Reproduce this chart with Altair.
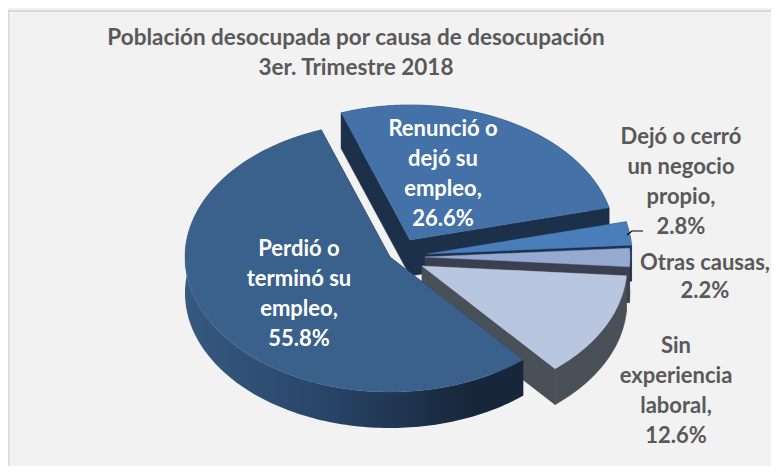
import math
import altair as alt

# --- data -----------------------------------------------------------------
categories = ["Renunció o dejó su empleo", "Dejó o cerró un negocio propio", "Otras causas",
              "Sin experiencia laboral", "Perdió o terminó su empleo"]
shares = [26.6, 2.8, 2.2, 12.6, 55.8]
label_lines = [
    ["Renunció o", "dejó su", "empleo,"],
    ["Dejó o cerró", "un negocio", "propio,"],
    ["Otras causas,"],
    ["Sin", "experiencia", "laboral,"],
    ["Perdió o", "terminó su", "empleo,"],
]
title_lines = ["Población desocupada por causa de desocupación", "3er. Trimestre 2018"]

# --- style / layout --------------------------------------------------------
W, H = 763, 458
BG = "#f2f2f2"
RX, RY, DEPTH = 205, 135, 36
START = 340.4
centres = [(402, 232), (419, 246), (417, 249), (414, 258), (382, 249)]
top_colors = ["#4472a8", "#4a7ebb", "#95a9d1", "#b9c6e0", "#3a618c"]
side_colors = ["#1c3049", "#1b3150", "#3b3f4f", "#4a5058", "#1b2d45"]
label_pos = [(435, 121), (673, 129), (697, 255), (668, 338), (291, 241)]
label_colors = ["white", "#595959", "#595959", "#595959", "white"]
main_gradient = {
    "gradient": "linear", "x1": 0, "x2": 1, "y1": 0, "y2": 0,
    "stops": [
        {"offset": 0, "color": "#36597f"},
        {"offset": 0.4, "color": "#29466a"},
        {"offset": 0.85, "color": "#17263a"},
        {"offset": 1, "color": "#17263a"},
    ],
}

PROJ = alt.Projection(type="identity", scale=1, translate=[0, 0])


def pt(c, deg, drop=0):
    a = math.radians(deg)
    return [c[0] + RX * math.sin(a), c[1] - RY * math.cos(a) + drop]


def shape(points, fill, **kw):
    ring = points + [points[0]]
    data = alt.Data(values=[{"type": "Feature", "properties": {},
                             "geometry": {"type": "Polygon", "coordinates": [ring]}}])
    return alt.Chart(data).mark_geoshape(fill=fill, stroke=kw.get("stroke", fill if isinstance(fill, str) else "#17263a"),
                                         strokeWidth=kw.get("sw", 0.4)).encode().project(**PROJ.to_dict())


layers = []
# frame
layers.append(alt.Chart(alt.Data(values=[{}])).mark_rule(color="#d9d9d9", strokeWidth=2).encode(
    x=alt.value(0), x2=alt.value(W), y=alt.value(3)))
layers.append(alt.Chart(alt.Data(values=[{}])).mark_rule(color="#d9d9d9", strokeWidth=2).encode(
    x=alt.value(0.5), y=alt.value(3), y2=alt.value(H)))

angle = START
for i, share in enumerate(shares):
    a0, a1 = angle, angle + share * 3.6
    angle = a1
    c = centres[i]
    n = max(6, int(share * 3))
    arc = [pt(c, a0 + (a1 - a0) * k / n) for k in range(n + 1)]
    arc_low = [pt(c, a0 + (a1 - a0) * k / n, DEPTH) for k in range(n + 1)]
    apex = [c[0], c[1]]
    apex_low = [c[0], c[1] + DEPTH]
    side = side_colors[i]
    layers.append(shape([apex, arc[0], arc_low[0], apex_low], side))
    layers.append(shape([apex, arc[-1], arc_low[-1], apex_low], side))
    outer = arc + arc_low[::-1]
    if i == 4:
        # only the front part of the wall can be seen: shade it across its width
        layers.append(shape(outer, main_gradient, sw=0))
    else:
        layers.append(shape(outer, side))
    layers.append(shape([apex] + arc, top_colors[i]))

# leader line of the small slice
leader = alt.Data(values=[{"type": "Feature", "properties": {},
                           "geometry": {"type": "LineString",
                                        "coordinates": [[619, 227], [624, 223], [635, 223]]}}])
layers.append(alt.Chart(leader).mark_geoshape(filled=False, stroke="black", strokeWidth=1.2)
              .project(**PROJ.to_dict()))


def text_layer(lines, x, y, color, size, lh):
    return alt.Chart(alt.Data(values=[{}])).mark_text(
        text=lines, font="Lato", fontWeight="bold", fontSize=size, lineHeight=lh,
        color=color, align="center", baseline="middle",
    ).encode(x=alt.value(x), y=alt.value(y))


layers.append(text_layer(title_lines, 348, 30, "#595959", 22.5, 30))
for lines, share, (x, y), col in zip(label_lines, shares, label_pos, label_colors):
    layers.append(text_layer(lines + [f"{share}%"], x, y, col, 22, 30 if len(lines) > 1 else 28))

chart = alt.layer(*layers).properties(
    width=W, height=H, padding=0, background=BG,
    autosize=alt.AutoSizeParams(type="none"),
).configure_view(stroke=None)

chart.save("out.html", embed_options={"renderer": "svg", "actions": False})
